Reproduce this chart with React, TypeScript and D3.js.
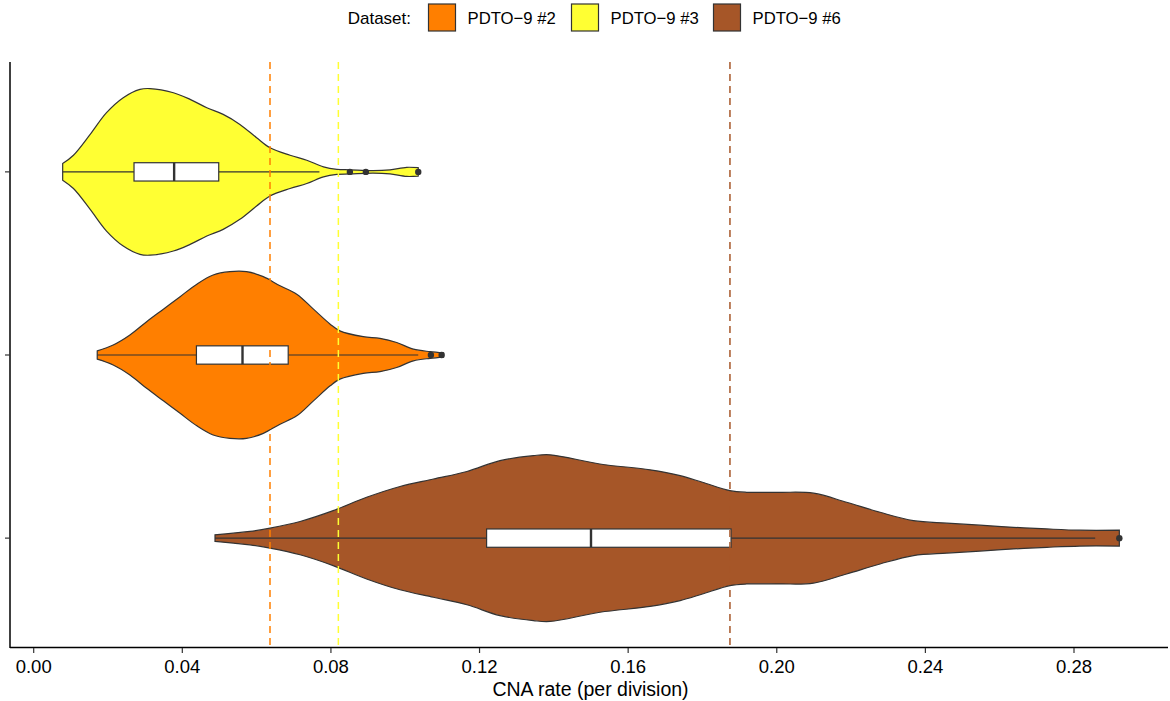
import React from 'react';
import * as d3 from 'd3';

// datasets in legend order
const datasets = ['PDTO-9 #2', 'PDTO-9 #3', 'PDTO-9 #6'];
const fills = ['#FF7F00', '#FFFF33', '#A65628'];
// position on the discrete y axis (1 = bottom)
const levels = [2, 3, 1];

// violin outlines: [CNA rate, relative density width]
const density2 = [
  [0.0171, 0.05], [0.0214, 0.12], [0.0259, 0.24], [0.0304, 0.4], [0.0349, 0.55],
  [0.0394, 0.7], [0.0439, 0.85], [0.0483, 0.96], [0.0528, 1.0], [0.0573, 1.0],
  [0.0618, 0.94], [0.0663, 0.83], [0.0708, 0.73], [0.0753, 0.55], [0.0798, 0.37],
  [0.0824, 0.29], [0.0887, 0.22], [0.0932, 0.2], [0.0977, 0.15], [0.1022, 0.07],
  [0.1067, 0.04], [0.1103, 0.025],
];
const density3 = [
  [0.0078, 0.1], [0.0107, 0.2], [0.0152, 0.45], [0.0196, 0.71], [0.0241, 0.89],
  [0.0286, 0.99], [0.0313, 1.0], [0.0376, 0.95], [0.0421, 0.87], [0.0466, 0.77],
  [0.051, 0.69], [0.0555, 0.57], [0.06, 0.41], [0.0636, 0.29], [0.069, 0.2],
  [0.0735, 0.14], [0.078, 0.06], [0.0816, 0.03], [0.0851, 0.025], [0.0914, 0.015],
  [0.0959, 0.025], [0.1004, 0.055], [0.1035, 0.05],
];
const density6 = [
  [0.0488, 0.04], [0.0537, 0.06], [0.0582, 0.08], [0.0636, 0.12], [0.0717, 0.2],
  [0.0806, 0.33], [0.0896, 0.49], [0.0986, 0.62], [0.1076, 0.71], [0.1166, 0.8],
  [0.1255, 0.93], [0.1345, 0.99], [0.139, 1.0], [0.1524, 0.89], [0.1659, 0.82],
  [0.174, 0.75], [0.18, 0.67], [0.1874, 0.57], [0.1919, 0.55], [0.2009, 0.55],
  [0.2099, 0.54], [0.2188, 0.43], [0.2278, 0.31], [0.2368, 0.21], [0.2458, 0.18],
  [0.2547, 0.155], [0.2637, 0.13], [0.2727, 0.11], [0.2816, 0.095], [0.2922, 0.095],
];
const densities = [density2, density3, density6];

// box stats: [lower whisker, q1, median, q3, upper whisker]
const boxStats = [
  [0.0171, 0.0438, 0.0562, 0.0685, 0.1035],
  [0.0078, 0.027, 0.0378, 0.0498, 0.0769],
  [0.0488, 0.1219, 0.15, 0.1877, 0.2857],
];
const outliers = [
  [0.1069, 0.1098],
  [0.0851, 0.0894, 0.1035],
  [0.2922],
];

// dashed reference lines
const refLines = [0.0636, 0.082, 0.1874];

const xTicks = [0, 0.04, 0.08, 0.12, 0.16, 0.2, 0.24, 0.28];

const W = 1170;
const H = 701;
const font = '"Liberation Sans", Arial, Helvetica, sans-serif';
const ink = '#333333';

export default function App() {
  const left = 10;
  const right = 1168;
  const top = 62;
  const bottom = 648;

  const x = d3.scaleLinear().domain([0, 0.28]).range([33.7, 1074]);
  const y = d3.scaleLinear().domain([0.4, 3.6]).range([bottom, top]);
  const unit = y(0) - y(1);
  const halfViolin = 0.455 * unit;
  const halfBox = 0.05 * unit;

  return (
    <svg
      width={W}
      height={H}
      style={{ position: 'absolute', left: 0, top: 0, background: '#fff' }}
      fontFamily={font}
    >
      {/* legend */}
      <text x={411} y={24} fontSize={17} textAnchor="end" fill="#000">Dataset:</text>
      {datasets.map((d, i) => {
        const kx = [428.5, 571.5, 713.5][i];
        return (
          <g key={d}>
            <rect x={kx} y={4} width={27} height={27} fill={fills[i]} stroke={ink} strokeWidth={1.2} />
            <text x={kx + 39} y={24.3} fontSize={16.7} fill="#000">{d.replace('-', '\u2212')}</text>
          </g>
        );
      })}

      {/* violins */}
      {datasets.map((d, i) => {
        const cy = y(levels[i]);
        const area = d3.area<number[]>()
          .x(p => x(p[0]))
          .y0(p => cy - p[1] * halfViolin)
          .y1(p => cy + p[1] * halfViolin)
          .curve(d3.curveCatmullRom.alpha(0.5));
        return (
          <path key={d} d={area(densities[i]) || ''} fill={fills[i]} stroke={ink} strokeWidth={1.2} />
        );
      })}

      {/* boxplots */}
      {datasets.map((d, i) => {
        const cy = y(levels[i]);
        const [lo, q1, med, q3, hi] = boxStats[i];
        return (
          <g key={d}>
            <line x1={x(lo)} x2={x(q1)} y1={cy} y2={cy} stroke={ink} strokeWidth={1.2} />
            <line x1={x(q3)} x2={x(hi)} y1={cy} y2={cy} stroke={ink} strokeWidth={1.2} />
            <rect x={x(q1)} y={cy - halfBox} width={x(q3) - x(q1)} height={2 * halfBox}
              fill="#fff" stroke={ink} strokeWidth={1.2} />
            <line x1={x(med)} x2={x(med)} y1={cy - halfBox} y2={cy + halfBox} stroke={ink} strokeWidth={2.4} />
            {outliers[i].map((o, j) => (
              <circle key={j} cx={x(o)} cy={cy} r={3.2} fill={ink} />
            ))}
          </g>
        );
      })}

      {/* reference lines */}
      {refLines.map((v, i) => (
        <line key={i} x1={x(v)} x2={x(v)} y1={top} y2={bottom} stroke={fills[i]}
          strokeWidth={1.5} strokeDasharray="7,5" />
      ))}

      {/* axes */}
      <line x1={left} x2={right} y1={bottom - 0.5} y2={bottom - 0.5} stroke="#000" strokeWidth={1.5} />
      <line x1={left} x2={left} y1={top} y2={bottom} stroke="#000" strokeWidth={1.5} />
      {xTicks.map(t => (
        <g key={t}>
          <line x1={x(t)} x2={x(t)} y1={bottom} y2={bottom + 5} stroke={ink} strokeWidth={1.2} />
          <text x={x(t)} y={672.7} fontSize={18.5} textAnchor="middle" fill="#000">{t.toFixed(2)}</text>
        </g>
      ))}
      {levels.map(l => (
        <line key={l} x1={left - 5} x2={left} y1={y(l)} y2={y(l)} stroke={ink} strokeWidth={1.2} />
      ))}
      <text x={(490 + 691) / 2} y={696} fontSize={19.5} textAnchor="middle" fill="#000">CNA rate (per division)</text>
    </svg>
  );
}
